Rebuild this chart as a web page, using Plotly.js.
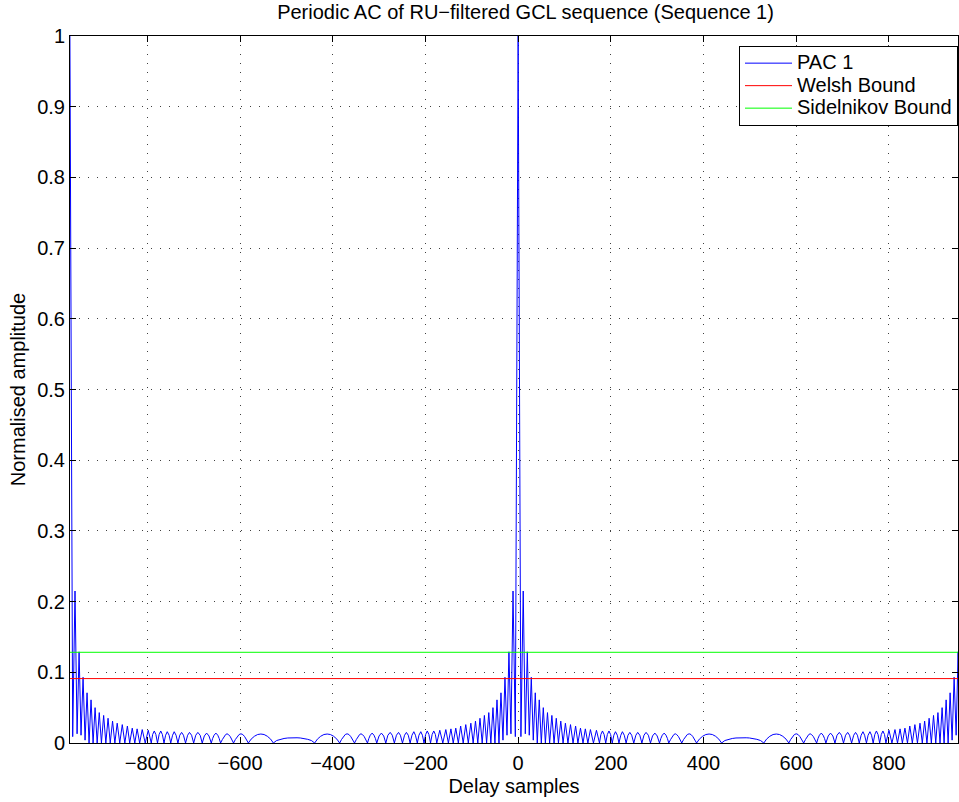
<!DOCTYPE html>
<html>
<head>
<meta charset="utf-8">
<script src="https://cdn.plot.ly/plotly-3.0.1.min.js"></script>
<style>html,body{margin:0;padding:0;background:#fff;} #chart{width:959px;height:802px;}</style>
</head>
<body>
<div id="chart"></div>
<script>
// ---- Data ----
// One half-period of |PAC| measured as delay from a correlation peak (samples)
const halfDelay = [
  0, 6, 11, 15.5, 19.8, 24, 28.4, 32.7, 37, 41.3, 45.6, 50, 54.3, 58.8, 63.3, 68, 72.8, 77.5,
  82.3, 87, 92, 97, 102, 107.5, 113, 118.5, 124, 129, 134.5, 140, 145, 150.5, 156, 162.5,
  169, 175.5, 178.5, 182, 185.5, 189, 192.5, 196, 199.5, 203, 206.5, 210, 214, 217.5,
  221.5, 225, 229, 233, 237, 241, 245, 249.5, 254, 258, 262.5, 267, 271.5, 276, 281, 285.5,
  290, 295, 300, 305, 308, 311, 315, 319, 322, 325, 329, 332, 336, 339, 342, 346, 349, 353,
  357, 361, 365, 369, 373, 377, 381, 385, 391, 398, 405, 412, 419, 426, 433, 439,
  446, 454, 462, 470, 477, 483
];
const halfAmp = [
  1.0, 0.009, 0.215, 0.013, 0.129, 0.011, 0.093, 0.004, 0.071, 0, 0.061, 0, 0.050, 0, 0.043, 0, 0.039, 0,
  0.035, 0, 0.031, 0, 0.028, 0, 0.026, 0, 0.024, 0, 0.021, 0, 0.020, 0, 0.019, 0,
  0.018, 0, 0.012, 0.017, 0.012, 0, 0.012, 0.017, 0.012, 0, 0.011, 0.016, 0.011, 0,
  0.011, 0.016, 0.011, 0, 0.011, 0.015, 0.011, 0, 0.011, 0.015, 0.011, 0, 0.011, 0.015, 0.011, 0,
  0.010, 0.014, 0.010, 0, 0.0065, 0.011, 0.014, 0.011, 0.0065, 0, 0.005, 0.009, 0.012, 0.013, 0.012, 0.009, 0.005, 0,
  0.005, 0.009, 0.012, 0.013, 0.012, 0.009, 0.005, 0, 0.0055, 0.0095, 0.012, 0.0127, 0.012, 0.0095, 0.0055, 0,
  0.0035, 0.0052, 0.0064, 0.0071, 0.0074, 0.0075
];
// Positions of the three correlation peaks (delay samples)
const peakDelays = [-967, 0, 969];
// Bounds
const welshBound = 0.0911;
const sidelnikovBound = 0.1283;
const xLimits = [-966.8, 949];
const xTickVals = [-800, -600, -400, -200, 0, 200, 400, 600, 800];
const yTickVals = [0, 0.1, 0.2, 0.3, 0.4, 0.5, 0.6, 0.7, 0.8, 0.9, 1];
const seriesNames = ['PAC 1', 'Welsh Bound', 'Sidelnikov Bound'];

// ---- Build the full PAC curve from the measured half-period ----
const px = [], py = [];
const n = halfDelay.length;
for (let i = 0; i < n; i++) { px.push(peakDelays[0] + halfDelay[i]); py.push(halfAmp[i]); }
for (let i = n - 1; i >= 0; i--) { px.push(peakDelays[1] - halfDelay[i]); py.push(halfAmp[i]); }
for (let i = 1; i < n; i++) { px.push(peakDelays[1] + halfDelay[i]); py.push(halfAmp[i]); }
for (let i = n - 1; i >= 0; i--) { px.push(peakDelays[2] - halfDelay[i]); py.push(halfAmp[i]); }

const FONT = '"Liberation Sans", Arial, Helvetica, sans-serif';
const FS = 20;
const legendName = s => '<span style="font-size:20px">' + s + '</span>';

const traces = [
  { x: px, y: py, type: 'scatter', mode: 'lines', name: legendName(seriesNames[0]),
    line: { color: 'rgb(0,0,255)', width: 1 } },
  { x: xLimits, y: [welshBound, welshBound], type: 'scatter', mode: 'lines', name: legendName(seriesNames[1]),
    line: { color: 'rgb(255,0,0)', width: 1 } },
  { x: xLimits, y: [sidelnikovBound, sidelnikovBound], type: 'scatter', mode: 'lines', name: legendName(seriesNames[2]),
    line: { color: 'rgb(0,255,0)', width: 1 } }
];

const axisCommon = {
  showline: true, linecolor: '#000', linewidth: 1, mirror: 'allticks',
  ticks: 'inside', ticklen: 6, tickcolor: '#000', tickwidth: 1,
  showgrid: true, gridcolor: 'rgba(0,0,0,0.75)', gridwidth: 1, griddash: '1px,8px',
  zeroline: false, tickfont: { family: FONT, size: FS, color: '#000' }
};

const layout = {
  width: 959, height: 802,
  margin: { l: 70, r: 1, t: 36, b: 59 },
  paper_bgcolor: '#fff', plot_bgcolor: '#fff',
  font: { family: FONT, size: FS, color: '#000' },
  title: { text: 'Periodic AC of RU\u2212filtered GCL sequence (Sequence 1)',
           font: { family: FONT, size: FS, color: '#000' }, x: 0.548, xanchor: 'center', y: 0.985, yanchor: 'middle' },
  xaxis: Object.assign({}, axisCommon, {
    range: xLimits, tickvals: xTickVals, ticktext: xTickVals.map(v => v < 0 ? '\u2212' + Math.abs(v) : String(v)),
    ticklabelstandoff: 2,
    title: { text: 'Delay samples', font: { family: FONT, size: FS, color: '#000' }, standoff: 5 }
  }),
  yaxis: Object.assign({}, axisCommon, {
    range: [0, 1], tickvals: yTickVals,
    title: { text: 'Normalised amplitude', font: { family: FONT, size: FS, color: '#000' }, standoff: 6 }
  }),
  showlegend: true,
  legend: { x: 1, xanchor: 'right', y: 0.986, yanchor: 'top', bgcolor: '#fff',
            bordercolor: '#000', borderwidth: 1, font: { family: FONT, size: 15, color: '#000' },
            tracegroupgap: 0, itemwidth: 47 }
};

Plotly.newPlot('chart', traces, layout, { staticPlot: true, displayModeBar: false });
</script>
</body>
</html>
